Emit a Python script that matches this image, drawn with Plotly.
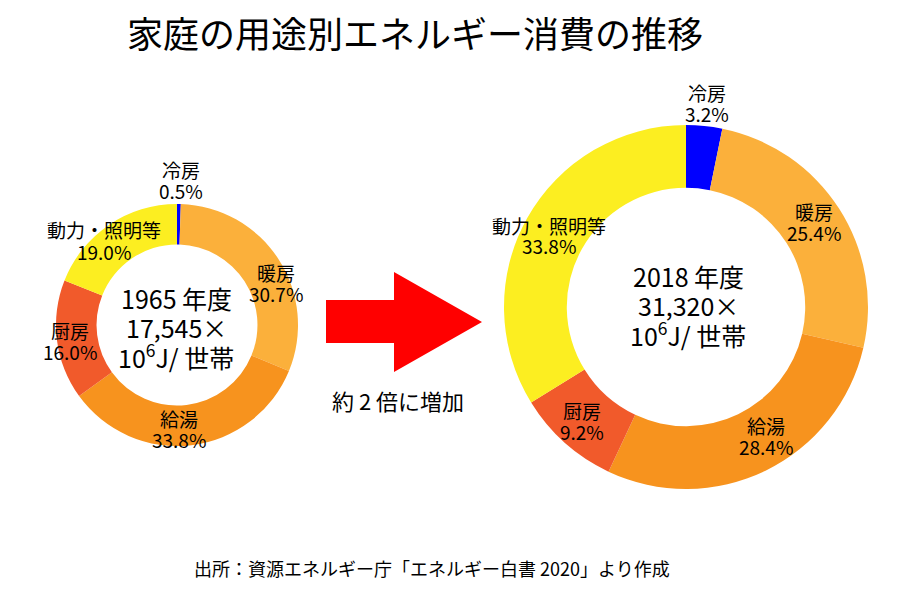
import plotly.graph_objects as go

# data
uses = ['冷房', '暖房', '給湯', '厨房', '動力・照明等']
share_1965 = [0.5, 30.7, 33.8, 16.0, 19.0]
share_2018 = [3.2, 25.4, 28.4, 9.2, 33.8]
years = ['1965', '2018']
totals = ['17,545', '31,320']

colors = ['#0000FF', '#FBB03B', '#F7931E', '#F15A2B', '#FCEE21']

W, H = 900, 600
FONT = 'Noto Sans CJK JP'


def px(x):
    return x / W


def py(y):
    return 1 - y / H


# label centres (pixels) for each slice, left chart and right chart
lab_pos_1965 = [(181, 180), (276, 283), (179, 429), (70, 341), (104, 241)]
lab_pos_2018 = [(707, 103), (814, 222), (766, 436), (582, 421), (549, 236)]
centre_pos = [(176, 327), (688, 305)]

fig = go.Figure()

fig.add_trace(go.Pie(
    labels=uses, values=share_1965, hole=0.665,
    sort=False, direction='clockwise', rotation=0,
    marker=dict(colors=colors, line=dict(width=0)),
    textinfo='none', showlegend=False,
    domain=dict(x=[px(56), px(298)], y=[py(446), py(204)]),
))
fig.add_trace(go.Pie(
    labels=uses, values=share_2018, hole=0.655,
    sort=False, direction='clockwise', rotation=0,
    marker=dict(colors=colors, line=dict(width=0)),
    textinfo='none', showlegend=False,
    domain=dict(x=[px(504), px(868)], y=[py(489), py(125)]),
))

annos = []


def text_at(x, y, text, size):
    annos.append(dict(
        x=px(x), y=py(y), xref='paper', yref='paper',
        xanchor='center', yanchor='middle',
        text=text, showarrow=False,
        font=dict(family=FONT, size=size, color='black'),
    ))


for vals, pos in [(share_1965, lab_pos_1965), (share_2018, lab_pos_2018)]:
    for name, v, (x, y) in zip(uses, vals, pos):
        text_at(x, y - 11, name, 19)
        text_at(x, y + 10, f'{v:.1f}%', 19)

# centre texts
for yr, tot, (x, y) in zip(years, totals, centre_pos):
    text_at(x, y - 29, f'{yr} 年度', 25)
    text_at(x, y, f'{tot}×', 25)
    text_at(x, y + 29, '10<sup>6</sup>J/ 世帯', 25)

# title, note, source
text_at(415, 32, '家庭の用途別エネルギー消費の推移', 36)
text_at(398, 400, '約 2 倍に増加', 22)
text_at(432, 568, '出所：資源エネルギー庁「エネルギー白書 2020」より作成', 18)

# red arrow
arrow = (f'M {px(326)} {py(300)} L {px(394)} {py(300)} L {px(394)} {py(272)} '
         f'L {px(482)} {py(322)} L {px(394)} {py(372)} L {px(394)} {py(343)} '
         f'L {px(326)} {py(343)} Z')

fig.update_layout(
    width=W, height=H,
    margin=dict(l=0, r=0, t=0, b=0),
    paper_bgcolor='white', plot_bgcolor='white',
    annotations=annos,
    shapes=[dict(type='path', path=arrow, xref='paper', yref='paper',
                 fillcolor='#FF0000', line=dict(width=0))],
)

# drop the browser's default body margin so the figure sits at the top-left
fig.write_html('out.html', config={'displayModeBar': False},
               post_script="document.body.style.margin = '0';")
